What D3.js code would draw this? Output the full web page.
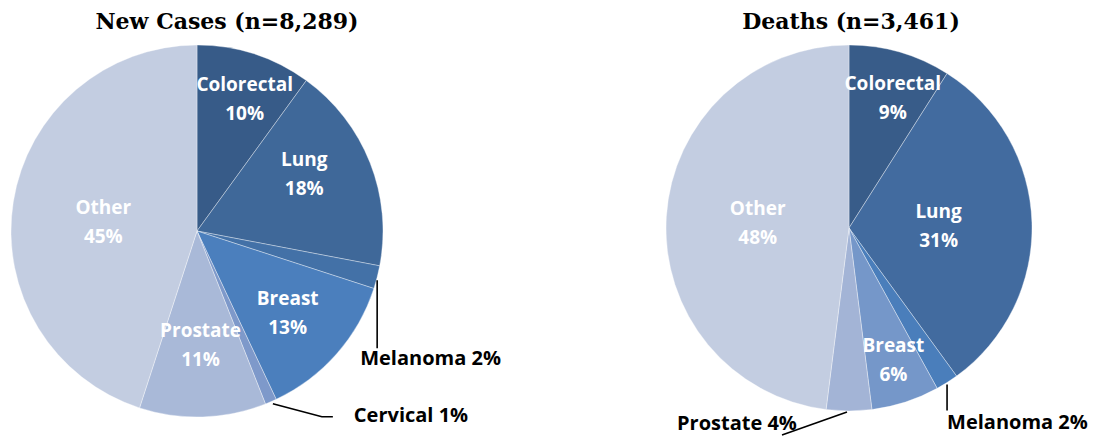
<!DOCTYPE html>
<html>
<head>
<meta charset="utf-8">
<script src="https://cdn.jsdelivr.net/npm/d3@7/dist/d3.min.js"></script>
<style>
  body { margin: 0; background: #fff; }
  svg { display: block; }
</style>
</head>
<body>
<div id="chart"></div>
<script>
// data
var casesTitle = "New Cases (n=8,289)";
var casesCategories = ["Colorectal", "Lung", "Melanoma", "Breast", "Cervical", "Prostate", "Other"];
var casesValues = [10, 18, 2, 13, 1, 11, 45];

var deathsTitle = "Deaths (n=3,461)";
var deathsCategories = ["Colorectal", "Lung", "Melanoma", "Breast", "Prostate", "Other"];
var deathsValues = [9, 31, 2, 6, 4, 48];

var width = 1096, height = 438;

var svg = d3.select("#chart").append("svg")
    .attr("width", width)
    .attr("height", height);

// layout of each pie; inside labels use a radius fraction + nudge,
// outside labels get a leader line from the slice edge
var pies = [
  {
    title: casesTitle, cats: casesCategories, vals: casesValues,
    cx: 197, cy: 231, r: 186, titleX: 227,
    colors: {Colorectal: "#375b88", Lung: "#3f6899", Melanoma: "#4371a7", Breast: "#4b7fbd",
             Cervical: "#7e99ca", Prostate: "#a9b9d8", Other: "#c3cde1"},
    labels: {
      Colorectal: {k: 0.76, dx: 4, dy: 1},
      Lung: {k: 0.62, dx: 0, dy: -16},
      Breast: {k: 0.65, dx: 0, dy: 1},
      Prostate: {k: 0.61, dx: 0, dy: 0},
      Other: {k: 0.51, dx: 0, dy: 5},
      Melanoma: {out: true, pts: [[0, 3], [0, 71]], tx: -17, ty: 88},
      Cervical: {out: true, pts: [[2, 2], [51, 15], [62, 15]], tx: 83, ty: 20}
    }
  },
  {
    title: deathsTitle, cats: deathsCategories, vals: deathsValues,
    cx: 849, cy: 228, r: 183, titleX: 851,
    colors: {Colorectal: "#385c89", Lung: "#426b9f", Melanoma: "#4a7ebb", Breast: "#7597c9",
             Prostate: "#a3b4d6", Other: "#c3cde1"},
    labels: {
      Colorectal: {k: 0.76, dx: 5, dy: 3},
      Lung: {k: 0.49, dx: 0, dy: 0},
      Breast: {k: 0.75, dx: 2, dy: 0},
      Other: {k: 0.50, dx: 0, dy: 0},
      Melanoma: {out: true, pts: [[0, 2], [0, 28]], tx: 0, ty: 46},
      Prostate: {out: true, pts: [[-2, 1], [-67, 24]], tx: -172, ty: 19}
    }
  }
];

var labelFont = "'Open Sans', 'Noto Sans', sans-serif";

pies.forEach(function(p) {
  var data = p.cats.map(function(c, i) { return {name: c, value: p.vals[i]}; });

  var pie = d3.pie()
      .value(function(d) { return d.value; })
      .sort(null);

  var arc = d3.arc().innerRadius(0).outerRadius(p.r);
  var edge = d3.arc().innerRadius(p.r).outerRadius(p.r);

  var g = svg.append("g")
      .attr("transform", "translate(" + p.cx + "," + p.cy + ")");

  var arcs = pie(data);

  g.selectAll("path.slice")
      .data(arcs)
      .enter().append("path")
      .attr("class", "slice")
      .attr("d", arc)
      .attr("fill", function(d) { return p.colors[d.data.name]; })
      .attr("stroke", "rgba(255,255,255,0.45)")
      .attr("stroke-width", 0.8);

  arcs.forEach(function(d) {
    var lab = p.labels[d.data.name];
    var pct = d.data.value + "%";
    if (lab.out) {
      var c = edge.centroid(d);
      var pts = lab.pts.map(function(q) { return [c[0] + q[0], c[1] + q[1]]; });
      g.append("path")
          .attr("d", d3.line()(pts))
          .attr("fill", "none")
          .attr("stroke", "#000")
          .attr("stroke-width", 1.6);
      g.append("text")
          .attr("x", c[0] + lab.tx)
          .attr("y", c[1] + lab.ty)
          .attr("font-family", labelFont)
          .attr("font-weight", "bold")
          .attr("font-size", "20px")
          .attr("fill", "#000")
          .text(d.data.name + " " + pct);
    } else {
      var a = d3.arc().innerRadius(p.r * lab.k).outerRadius(p.r * lab.k).centroid(d);
      var t = g.append("text")
          .attr("text-anchor", "middle")
          .attr("font-family", labelFont)
          .attr("font-weight", "bold")
          .attr("font-size", "19px")
          .attr("fill", "#fff");
      t.append("tspan")
          .attr("x", a[0] + lab.dx)
          .attr("y", a[1] + lab.dy - 7)
          .text(d.data.name);
      t.append("tspan")
          .attr("x", a[0] + lab.dx)
          .attr("y", a[1] + lab.dy + 22)
          .text(pct);
    }
  });

  svg.append("text")
      .attr("x", p.titleX)
      .attr("y", 29)
      .attr("text-anchor", "middle")
      .attr("font-family", "'DejaVu Serif', 'Liberation Serif', serif")
      .attr("font-weight", "bold")
      .attr("font-size", "22px")
      .attr("fill", "#000")
      .text(p.title);
});
</script>
</body>
</html>
